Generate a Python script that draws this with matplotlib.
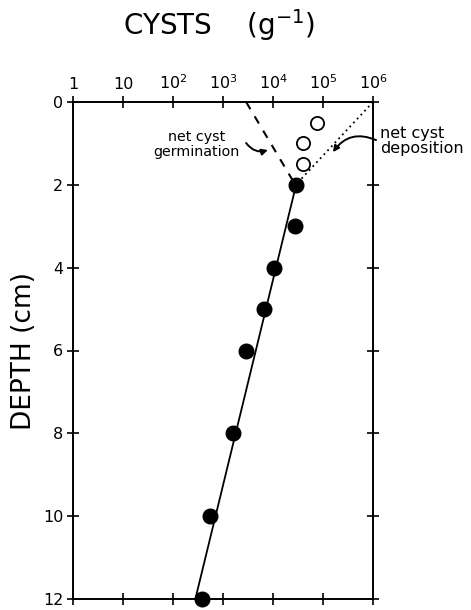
import matplotlib
matplotlib.use("Agg")
import matplotlib.pyplot as plt
import numpy as np

# data
depth_filled = [2, 3, 4, 5, 6, 8, 10, 12]
cysts_filled = [2.9e4, 2.8e4, 1.05e4, 6.6e3, 2.9e3, 1.6e3, 5.5e2, 3.8e2]
depth_open = [0.5, 1.0, 1.5]
cysts_open = [7.5e4, 3.9e4, 3.9e4]
fit_depth = [12, 2]
fit_cysts = [2.8e2, 2.9e4]
germ_depth = [0, 1.9]
germ_cysts = [2.9e3, 2.5e4]
depo_depth = [0, 1.9]
depo_cysts = [1e6, 3.4e4]
xticks = [1, 10, 1e2, 1e3, 1e4, 1e5, 1e6]
xticklabels = ["1", "10", "$10^2$", "$10^3$", "$10^4$", "$10^5$", "$10^6$"]
yticks = [0, 2, 4, 6, 8, 10, 12]

plt.rcParams['font.family'] = ['DejaVu Sans']
plt.rcParams['mathtext.fontset'] = 'dejavusans'

fig = plt.figure(figsize=(4.71, 6.10), dpi=100)
ax = fig.add_axes([73/471, 1-599/610, 300/471, 497/610])
ax.set_xscale('log')
ax.set_xlim(1, 1e6)
ax.set_ylim(12, 0)

ax.plot(fit_cysts, fit_depth, color='black', lw=1.3, zorder=2)
ax.plot(germ_cysts, germ_depth, color='black', lw=1.5, ls=(0, (4, 4)), zorder=2)
ax.plot(depo_cysts, depo_depth, color='black', lw=1.3, ls=(0, (1, 2)), zorder=2)
ax.plot(cysts_filled, depth_filled, 'o', color='black', ms=10.5, zorder=3, clip_on=False)
ax.plot(cysts_open, depth_open, 'o', mfc='white', mec='black', mew=1.3, ms=9.5, zorder=3)

ax.set_xticks(xticks)
ax.set_xticklabels(xticklabels)
ax.xaxis.set_minor_locator(matplotlib.ticker.NullLocator())
ax.set_yticks(yticks)
ax.tick_params(axis='x', which='major', direction='inout', length=8, width=1.2,
               top=True, bottom=True, labeltop=True, labelbottom=False,
               labelsize=11.5, pad=3)
ax.tick_params(axis='y', which='major', direction='inout', length=8, width=1.2,
               left=True, right=True, labelleft=True, labelright=False,
               labelsize=11.5, pad=3)
for s in ax.spines.values():
    s.set_linewidth(1.4)

ax.set_ylabel("DEPTH (cm)", fontsize=19, labelpad=4)
fig.text(219/471, 1-25/610, "CYSTS    (g$^{-1}$)", fontsize=20, ha='center', va='center')

# annotations
ax.text(3.0e2, 1.03, "net cyst\ngermination", fontsize=10.3, ha='center', va='center',
        linespacing=1.05)
ax.annotate("", xy=(7.9e3, 1.16), xytext=(2.9e3, 0.99),
            arrowprops=dict(arrowstyle='-|>', color='black', lw=1.4,
                            mutation_scale=9, shrinkA=0, shrinkB=0,
                            connectionstyle='arc3,rad=0.35'))
ax.text(1.38e6, 0.95, "net cyst\ndeposition", fontsize=11.5, ha='left', va='center',
        linespacing=1.0, clip_on=False)
ax.annotate("", xy=(1.58e5, 1.21), xytext=(1.15e6, 0.92),
            annotation_clip=False,
            arrowprops=dict(arrowstyle='-|>', color='black', lw=1.4,
                            mutation_scale=9, shrinkA=0, shrinkB=0,
                            connectionstyle='arc3,rad=0.4'))

fig.savefig("out.png", dpi=100)
